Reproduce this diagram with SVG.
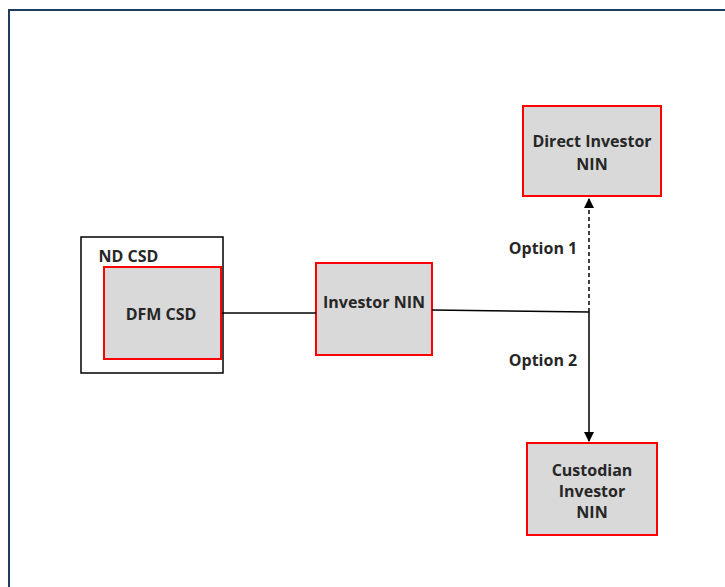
<svg xmlns="http://www.w3.org/2000/svg" width="725" height="587" viewBox="0 0 725 587">
<defs>
<style>
.node{fill:#d9d9d9;stroke:#ff0000;stroke-width:2}
.t{font-family:"Open Sans","Liberation Sans",sans-serif;font-weight:bold;font-size:16px;fill:#262626;text-anchor:middle}
.c{stroke:#000;stroke-width:1.5;fill:none}
</style>
<marker id="ah" viewBox="0 0 10 10" refX="9" refY="5" markerWidth="10" markerHeight="10" markerUnits="userSpaceOnUse" orient="auto">
<path d="M0,0 L10,5 L0,10 z" fill="#000"/>
</marker>
</defs>
<rect width="725" height="587" fill="#fff"/>
<path d="M9,587 V10 H725" fill="none" stroke="#1f3b60" stroke-width="2"/>
<g id="nd-csd">
<rect x="81" y="237" width="142" height="136" fill="#fff" stroke="#000" stroke-width="1.5"/>
<text class="t" x="128.5" y="262">ND CSD</text>
</g>
<g id="dfm-csd">
<rect class="node" x="104" y="267" width="117" height="92"/>
<text class="t" x="161" y="320">DFM CSD</text>
</g>
<g id="investor-nin">
<rect class="node" x="316" y="263" width="116" height="92"/>
<text class="t" x="374" y="308">Investor NIN</text>
</g>
<g id="direct-investor-nin">
<rect class="node" x="523" y="106" width="138" height="90"/>
<text class="t" x="592" y="147">Direct Investor</text>
<text class="t" x="592" y="170">NIN</text>
</g>
<g id="custodian-investor-nin">
<rect class="node" x="527" y="443" width="130" height="92"/>
<text class="t" x="592" y="476">Custodian</text>
<text class="t" x="592" y="497">Investor</text>
<text class="t" x="592" y="518">NIN</text>
</g>
<g id="connectors">
<line class="c" x1="222" y1="313" x2="316" y2="313"/>
<line class="c" x1="432" y1="310" x2="589" y2="312"/>
<line class="c" x1="589" y1="312" x2="589" y2="199" stroke-dasharray="4,3" marker-end="url(#ah)"/>
<line class="c" x1="589" y1="312" x2="589" y2="441" marker-end="url(#ah)"/>
<text class="t" x="543" y="254">Option 1</text>
<text class="t" x="543" y="366">Option 2</text>
</g>
</svg>
